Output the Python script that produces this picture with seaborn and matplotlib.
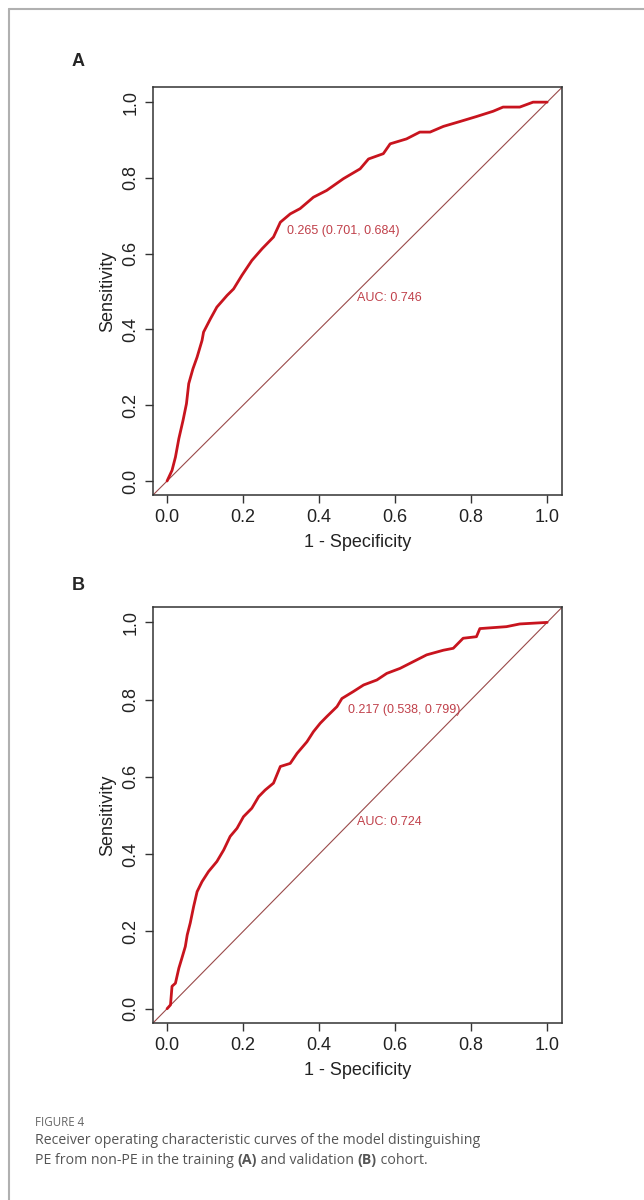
import numpy as np
import pandas as pd
import matplotlib
matplotlib.use("Agg")
import matplotlib.pyplot as plt
from matplotlib.lines import Line2D
import seaborn as sns

# curva ROC - coorte de treino (A)
fpr_a = [0.0, 0.013, 0.022, 0.031, 0.042, 0.051, 0.057, 0.068, 0.079, 0.092, 0.096,
         0.114, 0.131, 0.158, 0.175, 0.197, 0.223, 0.25, 0.28, 0.298, 0.324, 0.35,
         0.385, 0.42, 0.464, 0.508, 0.53, 0.569, 0.587, 0.63, 0.665, 0.692, 0.727,
         0.771, 0.814, 0.858, 0.884, 0.928, 0.963, 1.0]
tpr_a = [0.0, 0.028, 0.063, 0.112, 0.16, 0.204, 0.257, 0.296, 0.327, 0.371, 0.393,
         0.428, 0.459, 0.49, 0.507, 0.543, 0.582, 0.613, 0.644, 0.683, 0.705, 0.719,
         0.749, 0.767, 0.798, 0.824, 0.85, 0.864, 0.89, 0.903, 0.921, 0.921, 0.936,
         0.949, 0.962, 0.976, 0.987, 0.987, 1.0, 1.0]

# curva ROC - coorte de validação (B)
fpr_b = [0.0, 0.009, 0.013, 0.022, 0.031, 0.039, 0.048, 0.053, 0.061, 0.07, 0.079,
         0.092, 0.109, 0.131, 0.149, 0.166, 0.184, 0.201, 0.223, 0.241, 0.258, 0.28,
         0.298, 0.324, 0.342, 0.368, 0.385, 0.403, 0.42, 0.447, 0.46, 0.49, 0.517,
         0.552, 0.578, 0.613, 0.639, 0.683, 0.727, 0.753, 0.779, 0.814, 0.823, 0.893,
         0.928, 1.0]
tpr_b = [0.0, 0.01, 0.058, 0.066, 0.105, 0.131, 0.161, 0.191, 0.222, 0.265, 0.303,
         0.329, 0.355, 0.381, 0.411, 0.446, 0.467, 0.497, 0.519, 0.549, 0.566, 0.584,
         0.627, 0.635, 0.661, 0.691, 0.717, 0.739, 0.756, 0.782, 0.803, 0.821, 0.838,
         0.851, 0.868, 0.881, 0.894, 0.916, 0.928, 0.933, 0.959, 0.963, 0.984, 0.989,
         0.996, 1.0]

paineis = ["A", "B"]
limiares = ["0.265 (0.701, 0.684)", "0.217 (0.538, 0.799)"]
pos_limiar = [(0.315, 0.66), (0.477, 0.773)]
aucs = ["AUC: 0.746", "AUC: 0.724"]

sns.set_style("ticks")
plt.rcParams['font.family'] = ['Liberation Sans', 'DejaVu Sans']

fig = plt.figure(figsize=(6.44, 12), dpi=100)

# moldura da página
fig.add_artist(Line2D([9 / 644, 9 / 644], [0, 1 - 9 / 1200], transform=fig.transFigure,
                      color="#b0b0b0", lw=1.5))
fig.add_artist(Line2D([9 / 644, 1], [1 - 9 / 1200, 1 - 9 / 1200], transform=fig.transFigure,
                      color="#b0b0b0", lw=1.5))

caixas = [[0.2376, 0.5875, 0.635, 0.34], [0.2376, 0.1475, 0.635, 0.3467]]
dados = [(fpr_a, tpr_a), (fpr_b, tpr_b)]
letra_y = [1 - 62 / 1200, 1 - 585 / 1200]

for i in range(2):
    ax = fig.add_axes(caixas[i])
    df = pd.DataFrame({"fpr": dados[i][0], "tpr": dados[i][1]})
    ax.plot([-0.1, 1.1], [-0.1, 1.1], color="#9a4a4a", lw=0.8, zorder=1)
    sns.lineplot(data=df, x="fpr", y="tpr", sort=False, color="#c8141e", lw=2, ax=ax, zorder=2)
    ax.text(pos_limiar[i][0], pos_limiar[i][1], limiares[i], color="#c0404a",
            fontsize=9, ha="left", va="center")
    ax.text(0.5, 0.483, aucs[i], color="#c0404a", fontsize=9, ha="left", va="center")
    ax.set_xlim(-0.037, 1.039)
    ax.set_ylim(-0.037, 1.04)
    ticks = [0.0, 0.2, 0.4, 0.6, 0.8, 1.0]
    ax.set_xticks(ticks)
    ax.set_yticks(ticks)
    ax.set_xticklabels([f"{t:.1f}" for t in ticks], fontsize=13)
    ax.set_yticklabels([f"{t:.1f}" for t in ticks], fontsize=13, rotation=90, va="center")
    ax.tick_params(length=6, width=1, color="#333333", labelcolor="#222222", pad=4)
    for s in ax.spines.values():
        s.set_linewidth(1.1)
        s.set_color("#333333")
    ax.set_xlabel("1 - Specificity", fontsize=13, labelpad=6, color="#222222")
    ax.set_ylabel("Sensitivity", fontsize=13, labelpad=4, color="#222222")
    fig.text(78 / 644, letra_y[i], paineis[i], fontsize=13, fontweight="bold",
             ha="center", va="center")

fonte_legenda = ['Open Sans', 'DejaVu Sans']
tam = 10.2
fig.text(35 / 644, 1 - 1122 / 1200, "FIGURE 4", fontsize=8.3, color="#666666",
         family=fonte_legenda, va="center")
fig.text(35 / 644, 1 - 1140 / 1200,
         "Receiver operating characteristic curves of the model distinguishing",
         fontsize=tam, color="#555555", family=fonte_legenda, va="center")
t1 = fig.text(35 / 644, 1 - 1160 / 1200, "PE from non-PE in the training ", fontsize=tam,
              color="#555555", family=fonte_legenda, va="center")
fig.canvas.draw()
r = fig.canvas.get_renderer()
x = t1.get_window_extent(r).x1 / fig.bbox.width
pecas = [("(A)", True), (" and validation ", False), ("(B)", True), (" cohort.", False)]
for txt, negrito in pecas:
    t = fig.text(x, 1 - 1160 / 1200, txt, fontsize=tam, color="#555555",
                 family=fonte_legenda, va="center",
                 fontweight="bold" if negrito else "normal")
    x = t.get_window_extent(r).x1 / fig.bbox.width

fig.savefig("out.png", dpi=100)
